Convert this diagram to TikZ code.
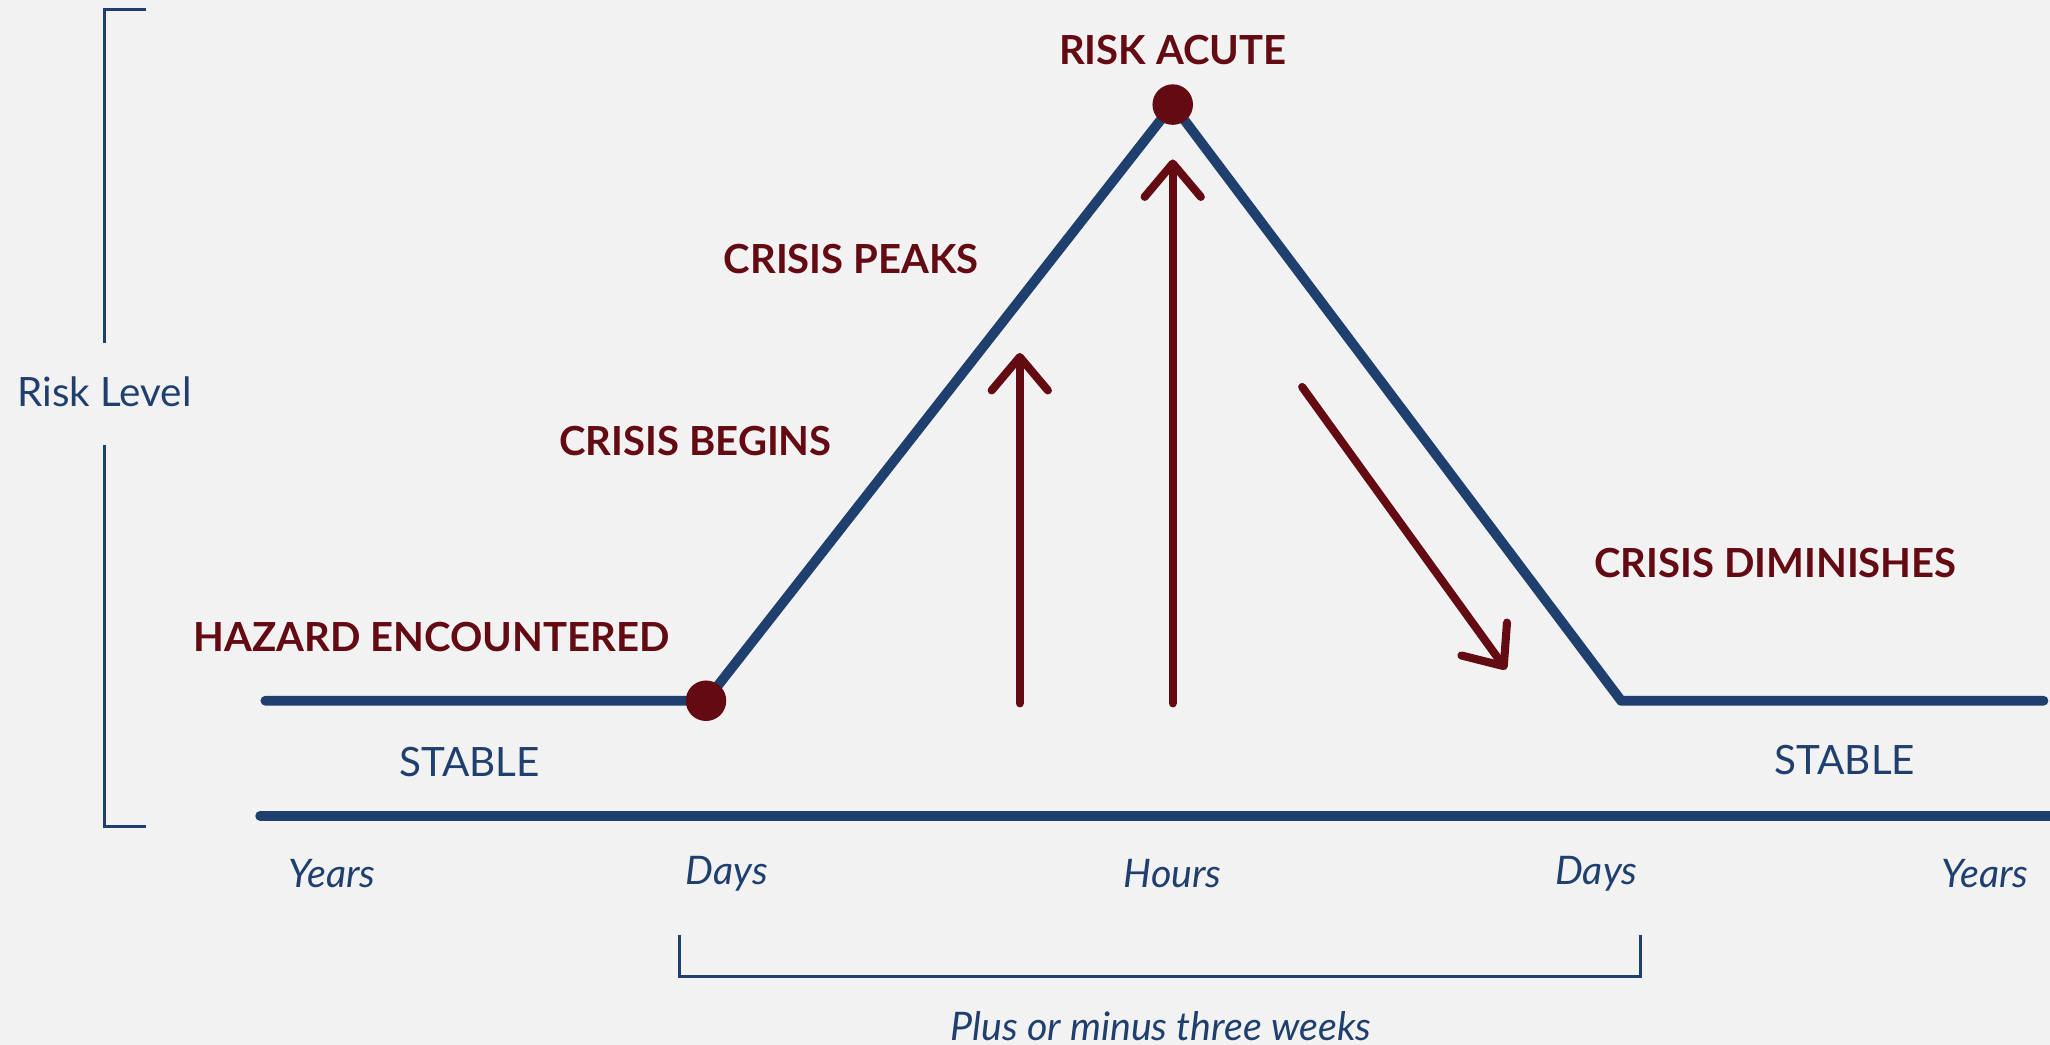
\documentclass[tikz,border=0pt]{standalone}
\usepackage{fontspec}
\setmainfont{Lato}
\usetikzlibrary{arrows.meta}
\definecolor{riskblue}{HTML}{1F3F6E}
\definecolor{riskred}{HTML}{630A12}
\definecolor{paper}{HTML}{F2F2F2}

\begin{document}
\begin{tikzpicture}[x=0.013074cm,y=-0.013074cm,
    curve/.style={riskblue,line width=2.8pt,line cap=round,line join=round},
    trend/.style={riskred,line width=2.3pt,line cap=round,
      -{Straight Barb[length=9.5pt,width=16pt,line cap=round,line join=round]}},
    bracket/.style={riskblue,line width=0.8pt},
    phase/.style={riskred,font=\bfseries\fontsize{11.4}{13}\selectfont},
    state/.style={riskblue,font=\fontsize{11.5}{13}\selectfont},
    span/.style={riskblue,font=\itshape\fontsize{11.2}{13}\selectfont}]
    % page
    \fill[paper] (0,0) rectangle (1568,799);
    \useasboundingbox (0,0) rectangle (1568,799);

    % risk level bracket
    \node[state] (level) at (80,300) {Risk Level};
    \draw[bracket] (112,7) -- (80,7) -- (80,262);
    \draw[bracket] (80,340) -- (80,632) -- (112,632);

    % risk curve
    \coordinate (start) at (203,536);
    \coordinate (onset) at (540,536);
    \coordinate (peak) at (897,80);
    \coordinate (settle) at (1240,536);
    \coordinate (stop) at (1563,536);
    \draw[curve] (start) -- (onset) -- (peak) -- (settle) -- (stop);
    \fill[riskred] (onset) circle[radius=15.5];
    \fill[riskred] (peak) circle[radius=15.5];

    % time axis
    \coordinate (axisL) at (199,624);
    \coordinate (axisR) at (1580,624);
    \draw[curve] (axisL) -- (axisR);

    % trend arrows
    \coordinate (riseA) at (780,538);
    \coordinate (riseAtip) at (780,270);
    \coordinate (riseB) at (897,538);
    \coordinate (riseBtip) at (897,122);
    \coordinate (fall) at (996,296);
    \coordinate (falltip) at (1152,512);
    \draw[trend] (riseA) -- (riseAtip);
    \draw[trend] (riseB) -- (riseBtip);
    \draw[trend] (fall) -- (falltip);

    % phase labels
    \node[phase] (acute) at (897,38) {RISK ACUTE};
    \node[phase] (peaks) at (651,198) {CRISIS PEAKS};
    \node[phase] (begins) at (532,337) {CRISIS BEGINS};
    \node[phase] (hazard) at (330,487) {HAZARD ENCOUNTERED};
    \node[phase] (diminish) at (1358,431) {CRISIS DIMINISHES};
    \node[state] (stableL) at (359,583) {STABLE};
    \node[state] (stableR) at (1411,581) {STABLE};

    % time scale
    \node[span] (yearsL) at (254,668) {Years};
    \node[span] (daysL) at (556,668) {Days};
    \node[span] (hours) at (897,668) {Hours};
    \node[span] (daysR) at (1221,668) {Days};
    \node[span] (yearsR) at (1518,668) {Years};

    % three weeks bracket
    \draw[bracket] (520,715) -- (520,747) -- (1255,747) -- (1255,715);
    \node[span] (weeks) at (888,785) {Plus or minus three weeks};
\end{tikzpicture}
\end{document}
